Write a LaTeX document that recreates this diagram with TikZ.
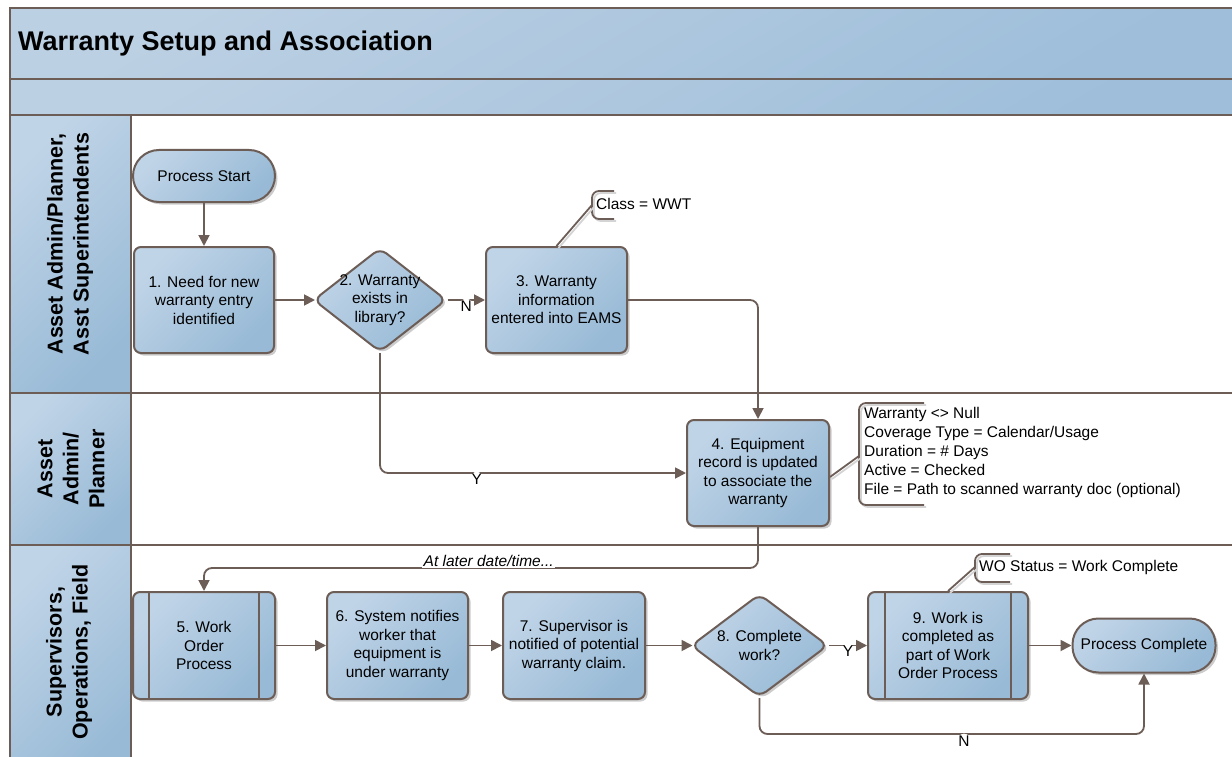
\documentclass[tikz,border=0pt]{standalone}
\usepackage{fontspec}
\setmainfont{Liberation Sans}
\usetikzlibrary{shapes.geometric,arrows.meta,shadows}
\definecolor{edgec}{RGB}{109,93,87}
\definecolor{lightb}{RGB}{192,212,231}
\definecolor{darkb}{RGB}{152,186,214}
\definecolor{bandl}{RGB}{188,208,227}
\definecolor{bandd}{RGB}{158,190,218}
\tikzset{
 bshade/.style={top color=lightb, bottom color=darkb, shading angle=45},
 shad/.style={drop shadow={shadow xshift=2.5pt, shadow yshift=-2.5pt, fill=black, opacity=0.2}},
 procbox/.style={draw=edgec, line width=2pt, rounded corners=7pt, bshade, shad, align=center, inner sep=2pt, minimum width=141pt, minimum height=106pt, font=\fontsize{15.5}{18.5}\selectfont},
 termbox/.style={procbox, rounded corners=26pt, minimum height=52pt},
 decision/.style={draw=edgec, line width=2pt, diamond, rounded corners=8pt, bshade, shad, inner sep=0pt},
 dtext/.style={align=center, inner sep=0pt, font=\fontsize{15.5}{18.5}\selectfont},
 conn/.style={draw=edgec, line width=1.8pt, rounded corners=8pt, -{Triangle[length=11pt,width=11pt]}},
 lbl/.style={fill=white, inner sep=2pt, font=\fontsize{15.5}{18}\selectfont},
 anno/.style={align=left, inner sep=0pt, font=\fontsize{15.5}{18.8}\selectfont},
 bracket/.style={draw=edgec, line width=1.8pt, rounded corners=7pt},
 bracketsh/.style={draw=black!17, line width=1.8pt, rounded corners=7pt},
 lanehead/.style={draw=edgec, line width=2.5pt, bshade},
 band/.style={draw=edgec, line width=2.5pt, top color=bandl, bottom color=bandd, shading angle=30},
 lanetext/.style={rotate=90, align=center, inner sep=0pt, font=\bfseries\fontsize{21.5}{26}\selectfont},
}
\begin{document}
\begin{tikzpicture}[x=1pt,y=-1pt]
\useasboundingbox (0,0) rectangle (1232,757);
\clip (0,0) rectangle (1232,757);
\fill[white] (0,0) rectangle (1232,757);

% bands and lanes
\draw[band] (10,8) rectangle (1250,79);
\draw[band] (10,79) rectangle (1250,115);
\draw[edgec, line width=2.5pt] (10,393) -- (1250,393);
\draw[edgec, line width=2.5pt] (10,545) -- (1250,545);
\draw[lanehead] (10,115) rectangle (131,393);
\draw[lanehead] (10,393) rectangle (131,545);
\draw[lanehead] (10,545) rectangle (131,775);

\node[anchor=west, inner sep=0pt, font=\bfseries\fontsize{27}{32}\selectfont] (title) at (18,44) {Warranty Setup and Association};
\node[lanetext] (l1) at (70,244) {Asset Admin/Planner,\\Asst Superintendents};
\node[lanetext] (l2) at (71,469) {Asset\\Admin/\\Planner};
\node[lanetext] (l3) at (69,652) {Supervisors,\\Operations, Field};

% nodes
\node[termbox, minimum width=142pt] (s) at (204,176) {Process Start};
\node[procbox, minimum width=140pt] (b1) at (204,300) {1. Need for new\\warranty entry\\identified};
\node[decision, minimum width=133pt, minimum height=104pt] (d2) at (380,300) {};
\node[dtext] (d2t) at (380,300) {2. Warranty\\exists in\\library?};
\node[procbox] (b3) at (556.5,300) {3. Warranty\\information\\entered into EAMS};
\node[procbox, minimum width=142pt] (b4) at (758,473) {4. Equipment\\record is updated\\to associate the\\warranty};
\node[procbox, minimum width=142pt, minimum height=107pt] (b5) at (204,645.5) {5. Work\\Order\\Process};
\draw[edgec, line width=2pt] ([xshift=17pt]b5.north west) -- ([xshift=17pt]b5.south west);
\draw[edgec, line width=2pt] ([xshift=-17pt]b5.north east) -- ([xshift=-17pt]b5.south east);
\node[procbox, minimum width=141pt, minimum height=107pt] (b6) at (397.5,645.5) {6. System notifies\\worker that\\equipment is\\under warranty};
\node[procbox, minimum width=142pt, minimum height=107pt] (b7) at (574,645.5) {7. Supervisor is\\notified of potential\\warranty claim.};
\node[decision, minimum width=137pt, minimum height=103pt] (d8) at (759.5,645.5) {};
\node[dtext] (d8t) at (759.5,645.5) {8. Complete\\work?};
\node[procbox, minimum width=160pt, minimum height=107pt] (b9) at (948,645.5) {9. Work is\\completed as\\part of Work\\Order Process};
\draw[edgec, line width=2pt] ([xshift=18pt]b9.north west) -- ([xshift=18pt]b9.south west);
\draw[edgec, line width=2pt] ([xshift=-18pt]b9.north east) -- ([xshift=-18pt]b9.south east);
\node[termbox, minimum width=143pt, minimum height=54pt] (c) at (1144,645.5) {Process Complete};

% annotations
\node[anno, anchor=west] (a3) at (596,204) {Class = WWT};
\coordinate (a3c) at (592,205);
\draw[bracketsh] (616,193) -- (594,193) -- (594,221) -- (616,221);
\draw[bracket] (614,191) -- (592,191) -- (592,219) -- (614,219);
\draw[draw=black!17, line width=1.8pt] ([xshift=2pt, yshift=-2pt]b3.north) -- (594,207);
\draw[draw=edgec, line width=1.8pt] (b3.north) -- (a3c);

\node[anno, anchor=north west] (a4) at (864,407.5) {Warranty <> Null\\Coverage Type = Calendar/Usage\\Duration = \# Days\\Active = Checked\\File = Path to scanned warranty doc (optional)};
\coordinate (a4c) at (859,456);
\draw[bracketsh] (926,405) -- (861,405) -- (861,507) -- (926,507);
\draw[bracket] (924,403) -- (859,403) -- (859,505) -- (924,505);
\draw[draw=black!17, line width=1.8pt] ([xshift=2pt, yshift=-6pt]b4.east) -- (861,458);
\draw[draw=edgec, line width=1.8pt] ([yshift=-4pt]b4.east) -- (a4c);

\node[anno, anchor=west] (a9) at (979,567) {WO Status = Work Complete};
\coordinate (a9c) at (975,567);
\draw[bracketsh] (1012,556) -- (977,556) -- (977,584) -- (1012,584);
\draw[bracket] (1010,554) -- (975,554) -- (975,582) -- (1010,582);
\draw[draw=black!17, line width=1.8pt] ([xshift=2pt, yshift=-2pt]b9.north) -- (977,569);
\draw[draw=edgec, line width=1.8pt] (b9.north) -- (a9c);

% connectors
\draw[conn] (s) -- (b1);
\draw[conn] (b1) -- ([xshift=2.5pt]d2.west);
\draw[conn] (d2.east) -- node[lbl, yshift=-6pt] {N} (b3);
\draw[conn] (d2.south) |- node[lbl, pos=0.658, yshift=-6pt] {Y} (b4.west);
\draw[conn] (b3.east) -| (b4.north);
\draw[conn] (b4.south) -- ++(0,41) -| (b5.north);
\node[lbl, anchor=base west, inner sep=1.5pt, font=\itshape\fontsize{15.5}{18}\selectfont] (late) at (422,566) {At later date/time...};
\draw[conn] (b5) -- (b6);
\draw[conn] (b6) -- (b7);
\draw[conn] (b7) -- ([xshift=2.5pt]d8.west);
\draw[conn] (d8.east) -- node[lbl, yshift=-6pt] {Y} (b9);
\draw[conn] (b9) -- (c);
\draw[conn] (d8.south) -- ++(0,36) -| node[lbl, pos=0.266, yshift=-7pt] {N} (c.south);
\end{tikzpicture}
\end{document}
